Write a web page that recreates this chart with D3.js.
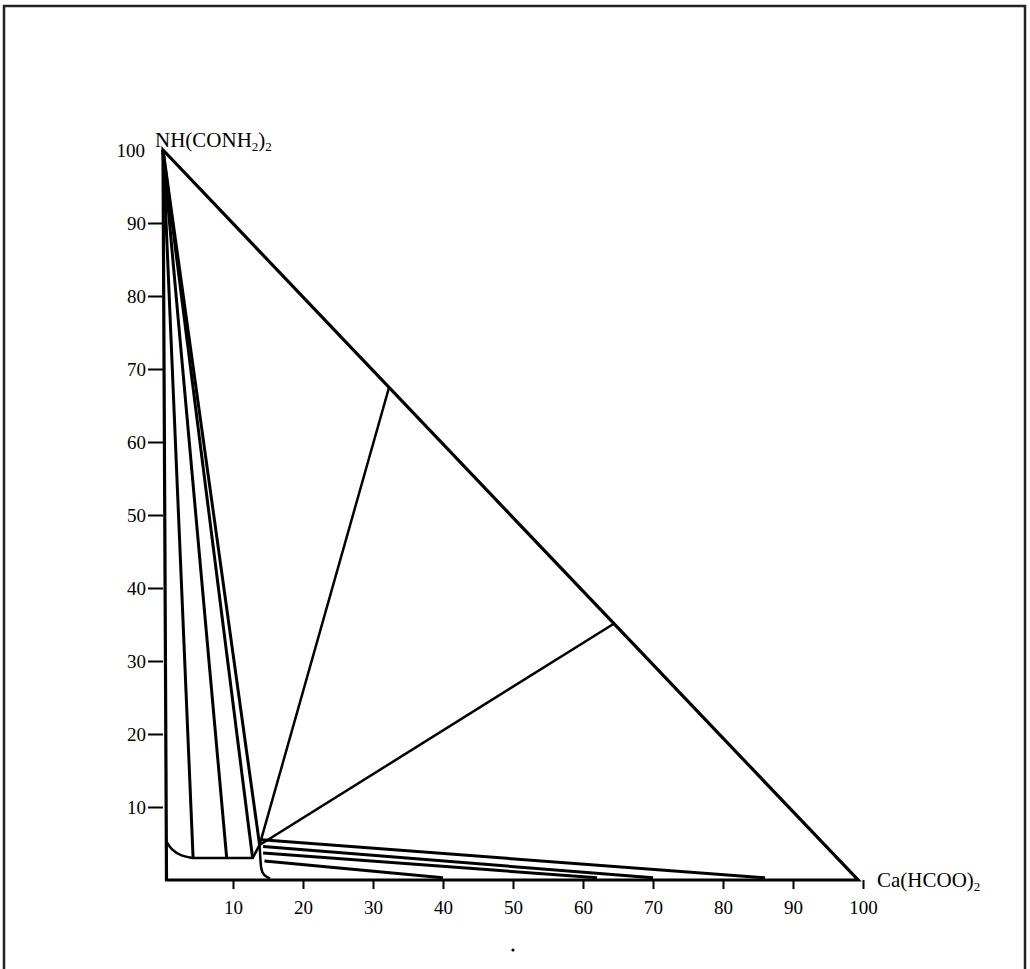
<!DOCTYPE html>
<meta charset='utf-8'>
<style>
html, body { margin: 0; padding: 0; background: #fff; }
svg text { font-family: 'Liberation Serif', 'DejaVu Serif', serif; fill: #000; }
</style>
<body>
<div id='chart'></div>
<script src='https://cdn.jsdelivr.net/npm/d3@7/dist/d3.min.js'></script>
<script>
// tick labels
var xTicks = [10, 20, 30, 40, 50, 60, 70, 80, 90, 100];
var yTicks = [10, 20, 30, 40, 50, 60, 70, 80, 90, 100];

// triangle corners: urea (top), origin, calcium formate
var corners = [[0, 100], [0.5, 0], [99.3, 0]];

// invariant point where the three fields meet
var ePoint = [13.8, 4.8];

// tie lines from the urea corner to the liquidus
var ureaTies = [[4.3, 3.0], [9.1, 3.0], [12.8, 3.0], [13.8, 4.8]];

// tie lines from the invariant point to the hypotenuse
var hypTies = [[32.3, 67.5], [64.4, 35.1]];

// tie lines toward the formate side: [start, end]
var formateTies = [
  [[14.1, 5.5], [86.0, 0.3]],
  [[14.3, 4.6], [70.0, 0.3]],
  [[14.3, 3.7], [62.0, 0.3]],
  [[14.5, 2.6], [40.0, 0.3]]
];

// liquidus curves
var leftCurve = [[0.4, 5.4], [1.2, 4.1], [2.6, 3.3], [4.3, 3.0], [12.8, 3.0], [13.8, 4.8]];
var rightCurve = [[13.8, 4.8], [13.9, 3.1], [14.0, 1.4], [14.4, 0.6], [15.3, 0.2]];

var W = 1030, H = 969;
var svg = d3.select('#chart').append('svg')
    .attr('width', W)
    .attr('height', H);

// outer frame
svg.append('rect')
  .attr('x', 4).attr('y', 6)
  .attr('width', 1021).attr('height', 980)
  .attr('fill', 'none')
  .attr('stroke', '#222')
  .attr('stroke-width', 2.5);

var x = d3.scaleLinear().domain([0, 100]).range([163, 863]);
var y = d3.scaleLinear().domain([0, 100]).range([880, 150]);

var line = d3.line().x(function(d) { return x(d[0]); }).y(function(d) { return y(d[1]); });
var smooth = d3.line().x(function(d) { return x(d[0]); }).y(function(d) { return y(d[1]); })
    .curve(d3.curveBasis);

var g = svg.append('g');

// axes
var xAxis = d3.axisBottom(x).tickValues(xTicks).tickSize(9).tickPadding(12).tickFormat(d3.format('d'));
var gx = g.append('g').attr('transform', 'translate(0,880)').call(xAxis);
gx.select('.domain').remove();
gx.selectAll('line').attr('stroke', '#000').attr('stroke-width', 2);
gx.selectAll('text').style('font-size', '19px');

var yAxis = d3.axisLeft(y).tickValues(yTicks).tickSize(15).tickPadding(2).tickFormat(d3.format('d'));
var gy = g.append('g').attr('transform', 'translate(163,0)').call(yAxis);
gy.select('.domain').remove();
gy.selectAll('line').attr('stroke', '#000').attr('stroke-width', 2);
gy.selectAll('.tick').filter(function(d) { return d === 100; }).select('line').remove();
gy.selectAll('.tick').filter(function(d) { return d === 100; }).select('text').attr('x', -18);
gy.selectAll('text').style('font-size', '19px');

// urea fan
g.selectAll('.uf').data(ureaTies).enter().append('path')
  .attr('d', function(d) { return line([corners[0], d]); })
  .attr('fill', 'none').attr('stroke', '#000').attr('stroke-width', 3);

// lines to hypotenuse
g.selectAll('.ht').data(hypTies).enter().append('path')
  .attr('d', function(d) { return line([ePoint, d]); })
  .attr('fill', 'none').attr('stroke', '#000').attr('stroke-width', 2.5);

// formate fan
g.selectAll('.ft').data(formateTies).enter().append('path')
  .attr('d', function(d) { return line(d); })
  .attr('fill', 'none').attr('stroke', '#000').attr('stroke-width', 3);

// liquidus
g.append('path').attr('d', line(leftCurve.slice(3)))
  .attr('fill', 'none').attr('stroke', '#000').attr('stroke-width', 2.5);
g.append('path').attr('d', smooth(leftCurve.slice(0, 4)))
  .attr('fill', 'none').attr('stroke', '#000').attr('stroke-width', 2.5);
g.append('path').attr('d', smooth(rightCurve))
  .attr('fill', 'none').attr('stroke', '#000').attr('stroke-width', 2.5);

// triangle outline
g.append('path').attr('d', line(corners) + 'Z')
  .attr('fill', 'none').attr('stroke', '#000').attr('stroke-width', 3.2)
  .attr('stroke-linejoin', 'miter');

// corner labels
var t1 = svg.append('text').attr('x', x(0) - 8).attr('y', 147).style('font-size', '21px');
t1.append('tspan').text('NH(CONH');
t1.append('tspan').text('2').attr('dy', 4).style('font-size', '13px');
t1.append('tspan').text(')').attr('dy', -4);
t1.append('tspan').text('2').attr('dy', 4).style('font-size', '13px');

var t2 = svg.append('text').attr('x', x(100) + 14).attr('y', 887).style('font-size', '21px');
t2.append('tspan').text('Ca(HCOO)');
t2.append('tspan').text('2').attr('dy', 4).style('font-size', '13px');

// stray dot below axis
svg.append('circle').attr('cx', x(50)).attr('cy', 950).attr('r', 1.6).attr('fill', '#000');
</script>
</body>
